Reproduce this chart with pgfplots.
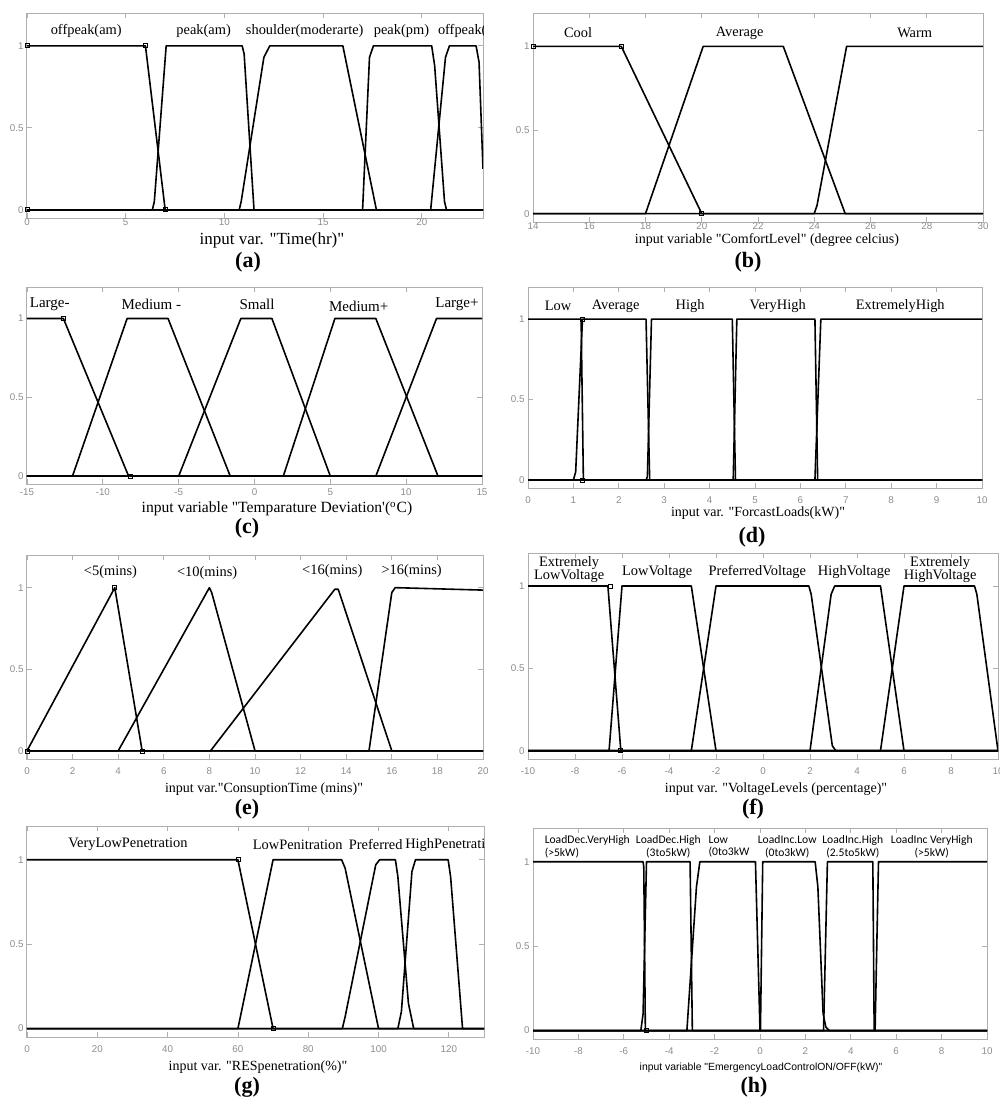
\documentclass[border=0pt]{standalone}
\usepackage{pgfplots}
\pgfplotsset{compat=1.18}
\usepackage{fontspec}
\setmainfont{Liberation Serif}[Ligatures=TeXOff]
\setsansfont{Liberation Sans}[Ligatures=TeXOff]
\newfontfamily\carlito{Carlito}
\definecolor{axgray}{RGB}{175,175,175}
\definecolor{tickgray}{RGB}{140,140,140}
\pgfplotsset{
  mf/.style={
    scale only axis, anchor=south west,
    ymin=-0.05, ymax=1.2,
    ytick={0,0.5,1}, yticklabels={0,0.5,1},
    axis line style={axgray, line width=0.5pt},
    tick style={axgray, line width=0.4pt},
    major tick length=2.5pt, tick align=inside,
    ticklabel style={font=\sffamily\fontsize{4.9}{5}\selectfont, text=tickgray},
    yticklabel style={inner sep=1.5pt},
    xticklabel style={inner sep=1.5pt},
  },
  mfl/.style={black, line width=0.8pt, line join=round, mark=none},
  mk/.style={only marks, mark=square, mark size=1pt, mark options={black, line width=0.35pt, fill=none}},
}
\tikzset{
  lbl/.style={font=\fontsize{7.2}{7.2}\selectfont, inner sep=0pt},
  lblh/.style={font=\carlito\fontsize{5.8}{6.3}\selectfont, inner sep=0pt},
  xl/.style={font=\fontsize{7}{8}\selectfont, inner sep=0pt},
  pl/.style={font=\bfseries\fontsize{11}{12}\selectfont, inner sep=0pt},
}
\begin{document}
\begin{tikzpicture}
\useasboundingbox (0,0) rectangle (500pt,-552pt);
% (a)
\begin{axis}[mf, at={(13.5pt,-109pt)}, width=228pt, height=102.5pt,
  xmin=0, xmax=23.1, xtick={0,5,10,15,20}, xticklabels={0,5,10,15,20},
  xticklabel style={yshift=1.5pt}]
\addplot[mfl] coordinates {(0,1)(6,1)(7,0)(23.1,0)};
\addplot[mfl] coordinates {(0,0)(6.35,0)(6.45,0.05)(7.05,1)(10.9,1)(11.0,0.95)(11.5,0)(23.1,0)};
\addplot[mfl] coordinates {(0,0)(10.75,0)(10.85,0.05)(12.0,0.93)(12.3,1)(16,1)(17.7,0)(23.1,0)};
\addplot[mfl] coordinates {(0,0)(17.0,0)(17.35,0.93)(17.55,1)(20.5,1)(20.65,0.88)(21.15,0.05)(21.25,0)(23.1,0)};
\addplot[mfl] coordinates {(0,0)(20.45,0)(21.2,0.93)(21.4,1)(22.75,1)(22.9,0.9)(23.1,0.25)};
\addplot[mk] coordinates {(0,1)(6,1)(0,0)(7,0)};
\node[lbl] at (axis cs:3,1.09) {offpeak(am)};
\node[lbl] at (axis cs:8.95,1.09) {peak(am)};
\node[lbl] at (axis cs:14.07,1.09) {shoulder(moderarte)};
\node[lbl] at (axis cs:18.97,1.09) {peak(pm)};
\node[lbl, anchor=west] at (axis cs:20.8,1.09) {offpeak(pm)};
\end{axis}
\node[xl, font=\fontsize{8.5}{9}\selectfont] at (136pt,-120pt) {input var. "Time(hr)"};
\node[pl] at (124pt,-131pt) {(a)};
% (b)
\begin{axis}[mf, at={(266.5pt,-111pt)}, width=225pt, height=104.5pt,
  xmin=14, xmax=30, xtick={14,16,...,30}, xticklabels={14,16,18,20,22,24,26,28,30},
  xticklabel style={yshift=1.5pt}]
\addplot[mfl] coordinates {(14,1)(17.14,1)(20,0)(30,0)};
\addplot[mfl] coordinates {(14,0)(18,0)(20.05,1)(22.9,1)(25.1,0)(30,0)};
\addplot[mfl] coordinates {(14,0)(24,0)(24.1,0.05)(25.15,1)(30,1)};
\addplot[mk] coordinates {(14,1)(17.14,1)(20,0)};
\node[lbl] at (axis cs:15.6,1.08) {Cool};
\node[lbl] at (axis cs:21.35,1.08) {Average};
\node[lbl] at (axis cs:27.57,1.08) {Warm};
\end{axis}
\node[xl] at (383.5pt,-120pt) {input variable "ComfortLevel" (degree celcius)};
\node[pl] at (374pt,-131pt) {(b)};
% (c)
\begin{axis}[mf, at={(13.5pt,-242pt)}, width=227.5pt, height=98.5pt,
  xmin=-15, xmax=15, xtick={-15,-10,...,15}, xticklabels={-15,-10,-5,0,5,10,15},
  xticklabel style={yshift=-0.5pt}]
\addplot[mfl] coordinates {(-15,1)(-12.6,1)(-8.3,0)(15,0)};
\addplot[mfl] coordinates {(-15,0)(-12,0)(-8.4,1)(-5.7,1)(-1.6,0)(15,0)};
\addplot[mfl] coordinates {(-15,0)(-5,0)(-0.9,1)(1.15,1)(5,0)(15,0)};
\addplot[mfl] coordinates {(-15,0)(1.9,0)(5.3,1)(8,1)(12.1,0)(15,0)};
\addplot[mfl] coordinates {(-15,0)(8,0)(12,1)(15,1)};
\addplot[mk] coordinates {(-12.6,1)(-8.2,0)};
\node[lbl, font=\fontsize{7.5}{8}\selectfont] at (axis cs:-13.5,1.09) {Large-};
\node[lbl, font=\fontsize{7.5}{8}\selectfont] at (axis cs:-6.8,1.09) {Medium -};
\node[lbl, font=\fontsize{7.5}{8}\selectfont] at (axis cs:0.17,1.09) {Small};
\node[lbl, font=\fontsize{7.5}{8}\selectfont] at (axis cs:6.87,1.08) {Medium+};
\node[lbl, font=\fontsize{7.5}{8}\selectfont] at (axis cs:13.35,1.09) {Large+};
\end{axis}
\node[xl, font=\fontsize{7.8}{8}\selectfont] at (138.5pt,-254.5pt) {input variable "Temparature Deviation'(\textsuperscript{o}C)};
\node[pl] at (123.5pt,-264pt) {(c)};
% (d)
\begin{axis}[mf, at={(264pt,-244pt)}, width=227pt, height=100.5pt,
  xmin=0, xmax=10, xtick={0,1,...,10}, xticklabels={0,1,2,3,4,5,6,7,8,9,10},
  xticklabel style={yshift=-2.5pt}]
\addplot[mfl] coordinates {(0,1)(1.17,1)(1.22,0)(10,0)};
\addplot[mfl] coordinates {(0,0)(1.0,0)(1.05,0.05)(1.2,1)(2.6,1)(2.68,0)(10,0)};
\addplot[mfl] coordinates {(0,0)(2.6,0)(2.63,0.02)(2.72,1)(4.5,1)(4.57,0)(10,0)};
\addplot[mfl] coordinates {(0,0)(4.52,0)(4.6,1)(6.32,1)(6.38,0)(10,0)};
\addplot[mfl] coordinates {(0,0)(6.32,0)(6.45,1)(10,1)};
\addplot[mk] coordinates {(1.2,1)(1.2,0)};
\node[lbl] at (axis cs:0.66,1.08) {Low};
\node[lbl] at (axis cs:1.93,1.08) {Average};
\node[lbl] at (axis cs:3.57,1.08) {High};
\node[lbl] at (axis cs:5.5,1.08) {VeryHigh};
\node[lbl] at (axis cs:8.2,1.08) {ExtremelyHigh};
\end{axis}
\node[xl] at (379pt,-256.5pt) {input var. "ForcastLoads(kW)"};
\node[pl] at (376pt,-268.5pt) {(d)};
% (e)
\begin{axis}[mf, at={(13.5pt,-379.5pt)}, width=228pt, height=102pt,
  xmin=0, xmax=20, xtick={0,2,...,20}, xticklabels={0,2,4,6,8,10,12,14,16,18,20},
  xticklabel style={yshift=-2.5pt}]
\addplot[mfl] coordinates {(0,0)(3.85,1)(5.05,0)(20,0)};
\addplot[mfl] coordinates {(0,0)(4,0)(8,1)(8.1,0.97)(10,0)(20,0)};
\addplot[mfl] coordinates {(0,0)(8.05,0)(13.5,0.99)(13.65,0.99)(16,0)(20,0)};
\addplot[mfl] coordinates {(0,0)(15,0)(16,0.97)(16.15,1)(20,0.985)};
\addplot[mk] coordinates {(0,0)(3.85,1)(5.05,0)};
\node[lbl] at (axis cs:3.66,1.095) {<5(mins)};
\node[lbl] at (axis cs:7.9,1.09) {<10(mins)};
\node[lbl] at (axis cs:13.39,1.1) {<16(mins)};
\node[lbl] at (axis cs:16.87,1.1) {>16(mins)};
\end{axis}
\node[xl] at (132pt,-394.5pt) {input var."ConsuptionTime (mins)"};
\node[pl] at (123.5pt,-404.5pt) {(e)};
% (f)
\begin{axis}[mf, at={(264pt,-379.5pt)}, width=235pt, height=103pt,
  xmin=-10, xmax=10, xtick={-10,-8,...,10}, xticklabels={-10,-8,-6,-4,-2,0,2,4,6,8,10},
  xticklabel style={yshift=-2.5pt}]
\addplot[mfl] coordinates {(-10,1)(-6.6,1)(-6.05,0)(10,0)};
\addplot[mfl] coordinates {(-10,0)(-6.55,0)(-6.0,1)(-3.05,1)(-2.0,0)(10,0)};
\addplot[mfl] coordinates {(-10,0)(-3.05,0)(-2.0,1)(1.95,1)(2.05,0.95)(2.95,0.03)(3.1,0)(10,0)};
\addplot[mfl] coordinates {(-10,0)(2.0,0)(2.9,0.95)(3.05,1)(5,1)(6,0)(10,0)};
\addplot[mfl] coordinates {(-10,0)(5,0)(6,1)(9,1)(9.1,0.95)(10,0)};
\addplot[mk] coordinates {(-6.5,1)(-6.05,0)};
\node[lbl, align=center, font=\fontsize{7.2}{6.9}\selectfont] at (axis cs:-8.25,1.099) {Extremely\\LowVoltage};
\node[lbl] at (axis cs:-4.5,1.085) {LowVoltage};
\node[lbl] at (axis cs:-0.24,1.085) {PreferredVoltage};
\node[lbl] at (axis cs:3.88,1.085) {HighVoltage};
\node[lbl, align=center, font=\fontsize{7.2}{6.9}\selectfont] at (axis cs:7.54,1.099) {Extremely\\HighVoltage};
\end{axis}
\node[xl] at (388pt,-394.5pt) {input var. "VoltageLevels (percentage)"};
\node[pl] at (376.5pt,-404.5pt) {(f)};
% (g)
\begin{axis}[mf, at={(13.5pt,-518.5pt)}, width=228.5pt, height=105.5pt,
  xmin=0, xmax=130, xtick={0,20,...,120}, xticklabels={0,20,40,60,80,100,120},
  xticklabel style={yshift=-2.5pt}]
\addplot[mfl] coordinates {(0,1)(60,1)(70,0)(130,0)};
\addplot[mfl] coordinates {(0,0)(60,0)(70,1)(89.5,1)(90.5,0.95)(100,0)(130,0)};
\addplot[mfl] coordinates {(0,0)(89.7,0)(90.5,0.07)(99.2,0.97)(100.3,1)(104.8,1)(105.5,0.9)(108.5,0.15)(110,0)(130,0)};
\addplot[mfl] coordinates {(0,0)(105.5,0)(106.5,0.1)(109.5,0.93)(110.5,1)(119.8,1)(120.5,0.9)(123.9,0)(130,0)};
\addplot[mk] coordinates {(60,1)(70,0)};
\node[lbl] at (axis cs:28.7,1.089) {VeryLowPenetration};
\node[lbl] at (axis cs:77,1.089) {LowPenitration};
\node[lbl] at (axis cs:99.2,1.089) {Preferred};
\node[lbl, anchor=west] at (axis cs:107.5,1.089) {HighPenetration};
\end{axis}
\node[xl] at (129pt,-533.5pt) {input var. "RESpenetration(\%)"};
\node[pl] at (123.5pt,-543.5pt) {(g)};
% (h)
\begin{axis}[mf, at={(266.5pt,-519.5pt)}, width=227pt, height=105.5pt,
  xmin=-10, xmax=10, xtick={-10,-8,...,10}, xticklabels={-10,-8,-6,-4,-2,0,2,4,6,8,10},
  xticklabel style={yshift=-2.5pt}]
\addplot[mfl] coordinates {(-10,1)(-5.15,1)(-5.12,0.97)(-5.05,0)(10,0)};
\addplot[mfl] coordinates {(-10,0)(-5.25,0)(-5.15,0.1)(-5.0,1)(-3.08,1)(-2.98,0)(10,0)};
\addplot[mfl] coordinates {(-10,0)(-3.22,0)(-2.8,0.85)(-2.65,1)(-0.2,1)(0,0)(10,0)};
\addplot[mfl] coordinates {(-10,0)(0.02,0)(0.12,1)(2.43,1)(2.55,0.85)(2.78,0.1)(2.9,0.02)(3.05,0)(10,0)};
\addplot[mfl] coordinates {(-10,0)(2.8,0)(2.97,1)(4.97,1)(5.03,0)(10,0)};
\addplot[mfl] coordinates {(-10,0)(5.07,0)(5.22,1)(10,1)};
\addplot[mk] coordinates {(-5,0)};
\node[lblh, anchor=west, align=left] at (axis cs:-9.5,1.09) {LoadDec.VeryHigh\\(>5kW)};
\node[lblh, align=center] at (axis cs:-4.04,1.09) {LoadDec.High\\(3to5kW)};
\node[lblh, anchor=west, align=left] at (axis cs:-2.28,1.09) {Low\\(0to3kW};
\node[lblh, align=center] at (axis cs:1.2,1.09) {LoadInc.Low\\(0to3kW)};
\node[lblh, align=center] at (axis cs:4.09,1.09) {LoadInc.High\\(2.5to5kW)};
\node[lblh, align=center] at (axis cs:7.57,1.09) {LoadInc VeryHigh\\(>5kW)};
\end{axis}
\node[xl, font=\sffamily\fontsize{5.2}{6}\selectfont] at (380.5pt,-534pt) {input variable "EmergencyLoadControlON/OFF(kW)"};
\node[pl] at (377pt,-543.5pt) {(h)};
\end{tikzpicture}
\end{document}
